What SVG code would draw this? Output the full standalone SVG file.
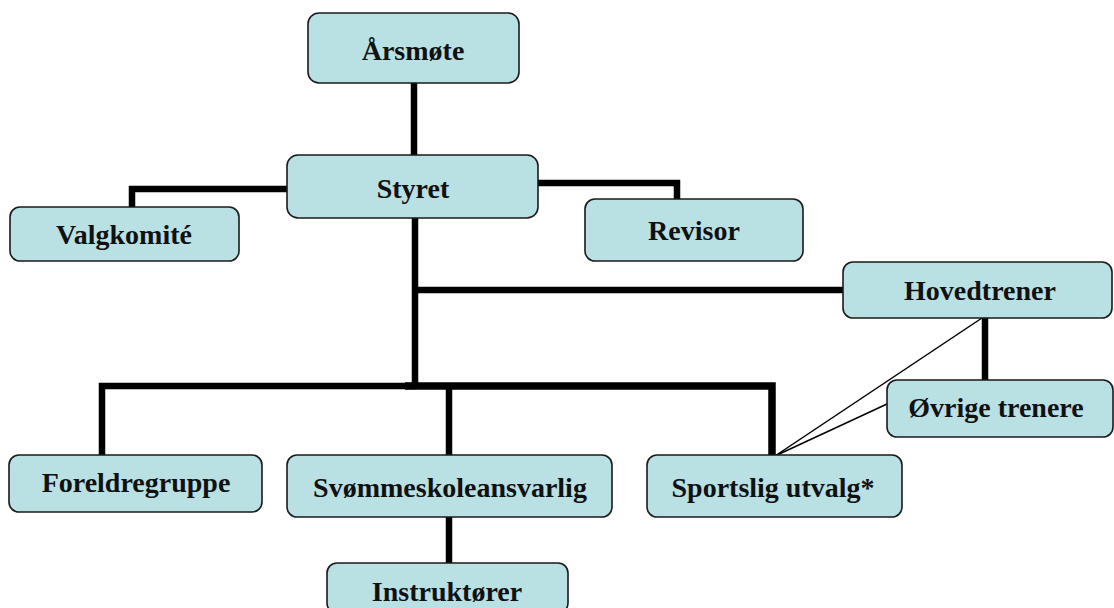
<svg xmlns="http://www.w3.org/2000/svg" width="1114" height="608" viewBox="0 0 1114 608">
<style>
.box{fill:#b9e0e3;stroke:#1a1a1a;stroke-width:1.6}
.lbl{font-family:"Liberation Serif","Times New Roman",serif;font-weight:bold;font-size:28px;fill:#111;text-anchor:middle}
.thick{fill:none;stroke:#000;stroke-width:6.5;stroke-linejoin:miter}
.thin{fill:none;stroke:#000;stroke-width:1.5}
</style>
<rect width="1114" height="608" fill="#fff"/>
<g id="connectors">
<path class="thick" d="M414,83 V155"/>
<path class="thick" d="M287,189 H132 V207"/>
<path class="thick" d="M538,183 H677 V199"/>
<path class="thick" d="M415,218 V386"/>
<path class="thick" d="M415,290 H843"/>
<path class="thick" d="M102,455 V386 H415"/>
<path class="thick" d="M405,386 H772 V455" style="stroke-width:7.5"/>
<path class="thick" d="M449,386 V455"/>
<path class="thick" d="M449,517 V563"/>
<path class="thick" d="M985,318 V380"/>
<path class="thin" d="M775,456 L982,318"/>
<path class="thin" d="M775,456 L887,404"/>
</g>
<g id="node-arsmote"><rect class="box" x="308" y="13" width="211" height="70" rx="11"/><text class="lbl" x="413" y="60">Årsmøte</text></g>
<g id="node-styret"><rect class="box" x="287" y="155" width="251" height="63" rx="11"/><text class="lbl" x="413" y="198">Styret</text></g>
<g id="node-valgkomite"><rect class="box" x="10" y="207" width="229" height="54" rx="10"/><text class="lbl" x="124" y="244">Valgkomité</text></g>
<g id="node-revisor"><rect class="box" x="585" y="199" width="218" height="62" rx="10"/><text class="lbl" x="694" y="240">Revisor</text></g>
<g id="node-hovedtrener"><rect class="box" x="843" y="262" width="269" height="56" rx="10"/><text class="lbl" x="980" y="300">Hovedtrener</text></g>
<g id="node-ovrige"><rect class="box" x="887" y="380" width="226" height="57" rx="10"/><text class="lbl" x="996" y="417">Øvrige trenere</text></g>
<g id="node-foreldregruppe"><rect class="box" x="9" y="455" width="253" height="57" rx="10"/><text class="lbl" x="136" y="492">Foreldregruppe</text></g>
<g id="node-svommeskole"><rect class="box" x="287" y="455" width="325" height="62" rx="10"/><text class="lbl" x="450" y="497">Svømmeskoleansvarlig</text></g>
<g id="node-sportslig"><rect class="box" x="647" y="455" width="255" height="62" rx="10"/><text class="lbl" x="773" y="497">Sportslig utvalg*</text></g>
<g id="node-instruktorer"><rect class="box" x="327" y="563" width="241" height="50" rx="10"/><text class="lbl" x="447" y="601">Instruktører</text></g>
</svg>
